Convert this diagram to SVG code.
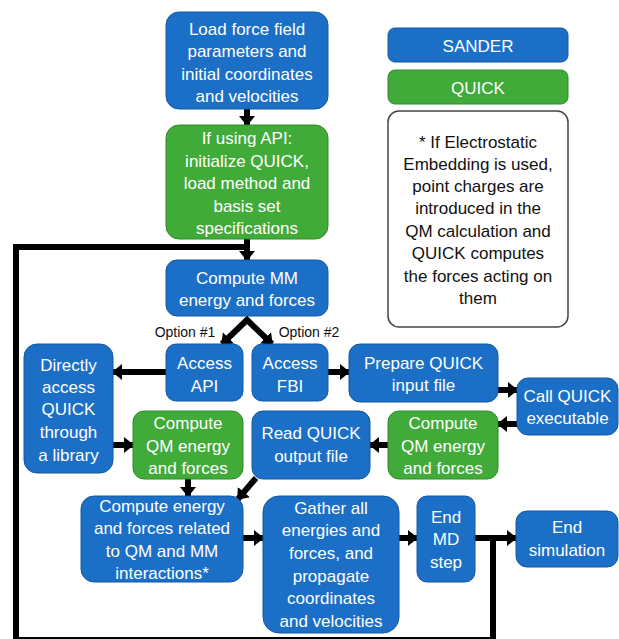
<svg xmlns="http://www.w3.org/2000/svg" width="619" height="639" viewBox="0 0 619 639">
<defs>
<marker id="ah" markerUnits="userSpaceOnUse" markerWidth="10" markerHeight="16" refX="9" refY="8" orient="auto">
<path d="M0,0 L10,8 L0,16 Z" fill="#000"/>
</marker>
<style>
.b{fill:#1b6fc6;stroke:#1558a0;stroke-width:1}
.g{fill:#41ab3a;stroke:#2e8b2a;stroke-width:1}
.n{fill:#fff;stroke:#444;stroke-width:1.5}
.t{font-family:"Liberation Sans",Arial,sans-serif;font-size:17px;fill:#fff;text-anchor:middle}
.k{fill:#111}
.o{font-family:"Liberation Sans",Arial,sans-serif;font-size:14px;fill:#111;text-anchor:middle}
.a{stroke:#000;stroke-width:6;fill:none;marker-end:url(#ah)}
.l{stroke:#000;stroke-width:6;fill:none}
</style>
</defs>
<rect width="619" height="639" fill="#fff"/>
<g id="connectors">
<polyline class="l" points="493,538 493,640 16,640 16,247 250,247"/>
<line class="a" x1="247" y1="109" x2="247" y2="125"/>
<line class="a" x1="247" y1="239" x2="247" y2="260"/>
<line class="a" x1="249" y1="318" x2="222" y2="344"/>
<line class="a" x1="245" y1="318" x2="272" y2="344"/>
<line class="a" x1="166" y1="372" x2="113" y2="372"/>
<line class="a" x1="113" y1="445" x2="133" y2="445"/>
<line class="a" x1="188" y1="479" x2="188" y2="496"/>
<line class="a" x1="256" y1="478" x2="238" y2="499"/>
<line class="a" x1="328" y1="372" x2="349" y2="372"/>
<line class="a" x1="498" y1="390" x2="517" y2="390"/>
<line class="a" x1="517" y1="424" x2="498" y2="424"/>
<line class="a" x1="388" y1="445" x2="370" y2="445"/>
<line class="a" x1="243" y1="538" x2="263" y2="538"/>
<line class="a" x1="399" y1="538" x2="417" y2="538"/>
<line class="a" x1="475" y1="538" x2="516" y2="538"/>
</g>
<g id="load">
<rect class="b" x="166" y="12" width="162" height="97" rx="13"/>
<text class="t" x="247" y="34.5">Load force field</text>
<text class="t" x="247" y="57">parameters and</text>
<text class="t" x="247" y="79.5">initial coordinates</text>
<text class="t" x="247" y="102">and velocities</text>
</g>
<g id="init">
<rect class="g" x="166" y="125" width="162" height="114" rx="13"/>
<text class="t" x="247" y="144">If using API:</text>
<text class="t" x="247" y="167">initialize QUICK,</text>
<text class="t" x="247" y="189">load method and</text>
<text class="t" x="247" y="212">basis set</text>
<text class="t" x="247" y="234">specifications</text>
</g>
<g id="mm">
<rect class="b" x="166" y="260" width="162" height="56" rx="11"/>
<text class="t" x="247" y="284">Compute MM</text>
<text class="t" x="247" y="306">energy and forces</text>
</g>
<g id="opt1"><text class="o" x="185" y="337">Option #1</text></g>
<g id="opt2"><text class="o" x="309" y="337">Option #2</text></g>
<g id="api">
<rect class="b" x="166" y="344" width="77" height="57" rx="10"/>
<text class="t" x="204.5" y="369">Access</text>
<text class="t" x="204.5" y="392">API</text>
</g>
<g id="fbi">
<rect class="b" x="252" y="344" width="76" height="57" rx="10"/>
<text class="t" x="290" y="369">Access</text>
<text class="t" x="290" y="392">FBI</text>
</g>
<g id="direct">
<rect class="b" x="24" y="344" width="89" height="129" rx="13"/>
<text class="t" x="68.5" y="371">Directly</text>
<text class="t" x="68.5" y="393">access</text>
<text class="t" x="68.5" y="415">QUICK</text>
<text class="t" x="68.5" y="438">through</text>
<text class="t" x="68.5" y="461">a library</text>
</g>
<g id="qm1">
<rect class="g" x="133" y="411" width="110" height="68" rx="11"/>
<text class="t" x="188" y="429">Compute</text>
<text class="t" x="188" y="452">QM energy</text>
<text class="t" x="188" y="474">and forces</text>
</g>
<g id="prepare">
<rect class="b" x="349" y="344" width="149" height="58" rx="11"/>
<text class="t" x="423.5" y="369">Prepare QUICK</text>
<text class="t" x="423.5" y="391">input file</text>
</g>
<g id="call">
<rect class="b" x="517" y="378" width="101" height="57" rx="11"/>
<text class="t" x="567.5" y="402">Call QUICK</text>
<text class="t" x="567.5" y="424">executable</text>
</g>
<g id="qm2">
<rect class="g" x="388" y="411" width="110" height="68" rx="11"/>
<text class="t" x="443" y="429">Compute</text>
<text class="t" x="443" y="452">QM energy</text>
<text class="t" x="443" y="474">and forces</text>
</g>
<g id="read">
<rect class="b" x="252" y="411" width="118" height="68" rx="11"/>
<text class="t" x="311" y="439">Read QUICK</text>
<text class="t" x="311" y="462">output file</text>
</g>
<g id="qmmm">
<rect class="b" x="81" y="496" width="162" height="86" rx="13"/>
<text class="t" x="162" y="512">Compute energy</text>
<text class="t" x="162" y="534">and forces related</text>
<text class="t" x="162" y="557">to QM and MM</text>
<text class="t" x="162" y="579">interactions*</text>
</g>
<g id="gather">
<rect class="b" x="263" y="496" width="136" height="137" rx="16"/>
<text class="t" x="331" y="514">Gather all</text>
<text class="t" x="331" y="536">energies and</text>
<text class="t" x="331" y="559">forces, and</text>
<text class="t" x="331" y="582">propagate</text>
<text class="t" x="331" y="604">coordinates</text>
<text class="t" x="331" y="627">and velocities</text>
</g>
<g id="endmd">
<rect class="b" x="417" y="496" width="58" height="86" rx="10"/>
<text class="t" x="446" y="523">End</text>
<text class="t" x="446" y="545">MD</text>
<text class="t" x="446" y="568">step</text>
</g>
<g id="endsim">
<rect class="b" x="516" y="511" width="102" height="56" rx="11"/>
<text class="t" x="567" y="533">End</text>
<text class="t" x="567" y="556">simulation</text>
</g>
<g id="legend-sander">
<rect class="b" x="388" y="28" width="180" height="34" rx="7"/>
<text class="t" x="478" y="52">SANDER</text>
</g>
<g id="legend-quick">
<rect class="g" x="388" y="70" width="180" height="34" rx="7"/>
<text class="t" x="478" y="94">QUICK</text>
</g>
<g id="note">
<rect class="n" x="388" y="111" width="180" height="216" rx="11"/>
<text class="t k" x="478" y="148">* If Electrostatic</text>
<text class="t k" x="478" y="170">Embedding is used,</text>
<text class="t k" x="478" y="192">point charges are</text>
<text class="t k" x="478" y="214">introduced in the</text>
<text class="t k" x="478" y="237">QM calculation and</text>
<text class="t k" x="478" y="259">QUICK computes</text>
<text class="t k" x="478" y="282">the forces acting on</text>
<text class="t k" x="478" y="304">them</text>
</g>
</svg>
